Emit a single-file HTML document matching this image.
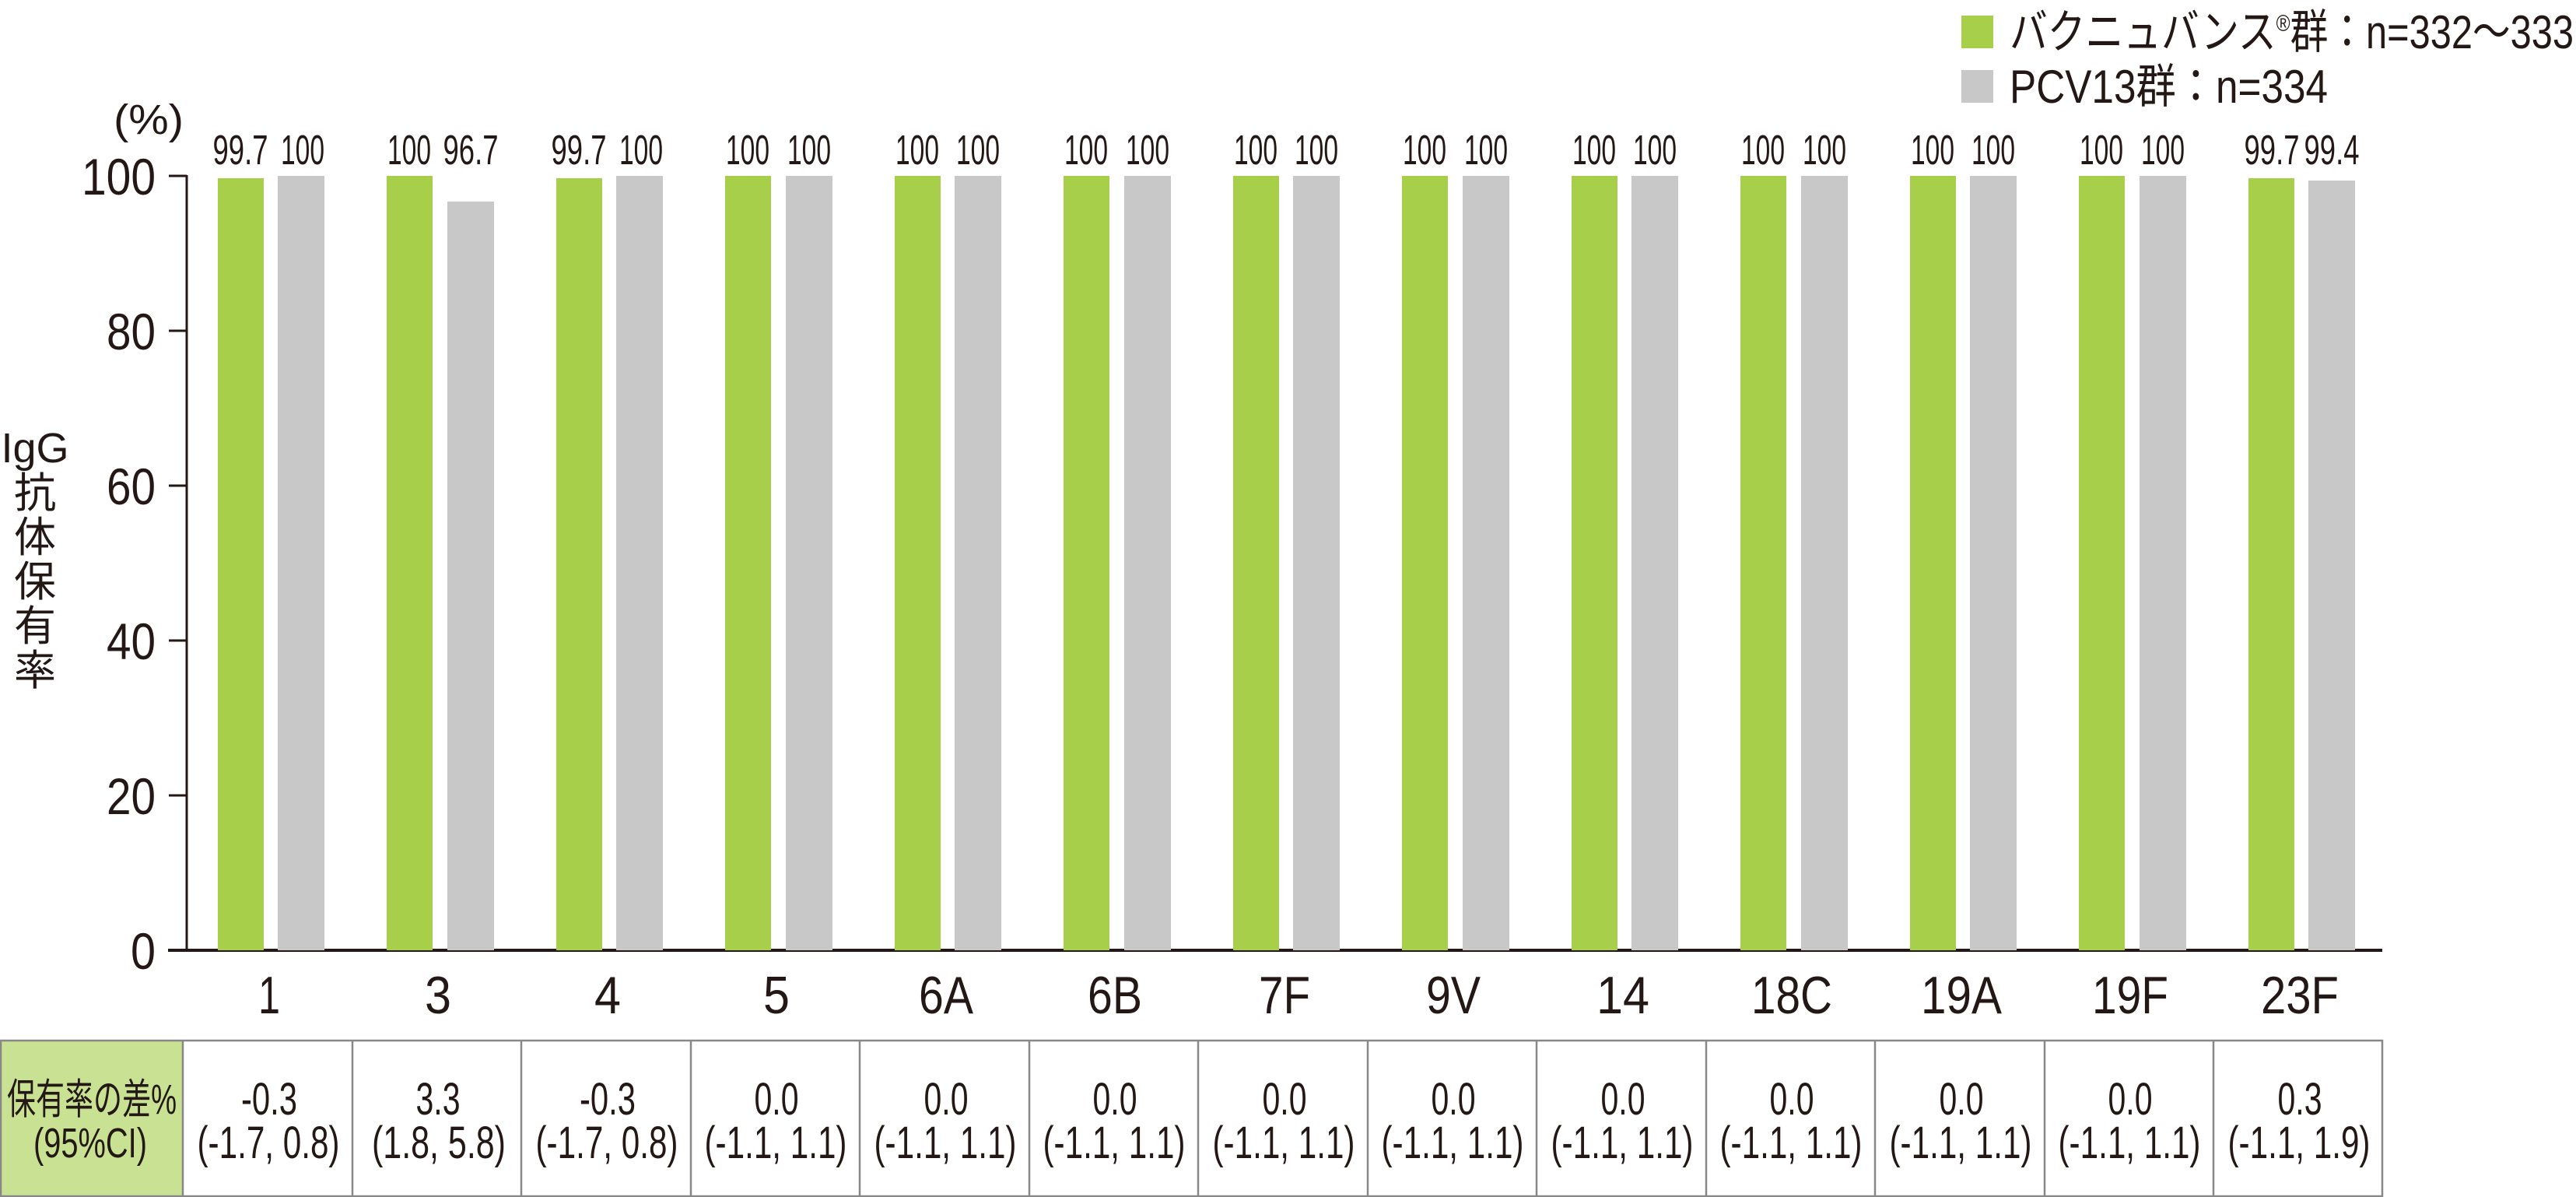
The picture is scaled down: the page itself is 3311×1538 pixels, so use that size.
<!DOCTYPE html>
<html><head><meta charset="utf-8"><style>
html,body{margin:0;padding:0;background:#fff;}
svg{display:block;}
text{font-family:"Liberation Sans","Noto Sans CJK JP",sans-serif;fill:#231815;}
</style></head><body>
<svg width="3311" height="1538" viewBox="0 0 3311 1538" xmlns="http://www.w3.org/2000/svg">
<!-- legend -->
<rect x="2521" y="20" width="41" height="42" fill="#a8cf4a"/>
<rect x="2521" y="90" width="41" height="42" fill="#c8c8c8"/>
<text x="2583" y="62" font-size="60" textLength="725" lengthAdjust="spacingAndGlyphs">バクニュバンス<tspan font-size="30" dy="-22">®</tspan><tspan dy="22">群：n=332〜333</tspan></text>
<text x="2583" y="132" font-size="60" textLength="409" lengthAdjust="spacingAndGlyphs">PCV13群：n=334</text>
<!-- (%) -->
<text x="146" y="172" font-size="54" textLength="90" lengthAdjust="spacingAndGlyphs">(%)</text>
<!-- y title -->
<g font-size="54" text-anchor="middle">
<text x="45" y="594">IgG</text>
<text x="45" y="652">抗</text>
<text x="45" y="709">体</text>
<text x="45" y="766">保</text>
<text x="45" y="823">有</text>
<text x="45" y="880">率</text>
</g>
<!-- axes -->
<line x1="240" y1="225" x2="240" y2="1222" stroke="#231815" stroke-width="3"/>
<line x1="216" y1="1221" x2="3062" y2="1221" stroke="#231815" stroke-width="4"/>
<g stroke="#231815" stroke-width="3">
<line x1="217" y1="226" x2="240" y2="226"/>
<line x1="217" y1="425" x2="240" y2="425"/>
<line x1="217" y1="624" x2="240" y2="624"/>
<line x1="217" y1="823" x2="240" y2="823"/>
<line x1="217" y1="1022" x2="240" y2="1022"/>
</g>
<g font-size="66" text-anchor="end">
<text x="200" y="250" textLength="95" lengthAdjust="spacingAndGlyphs">100</text>
<text x="200" y="449" textLength="63" lengthAdjust="spacingAndGlyphs">80</text>
<text x="200" y="648" textLength="63" lengthAdjust="spacingAndGlyphs">60</text>
<text x="200" y="847" textLength="63" lengthAdjust="spacingAndGlyphs">40</text>
<text x="200" y="1046" textLength="63" lengthAdjust="spacingAndGlyphs">20</text>
<text x="200" y="1245" textLength="32" lengthAdjust="spacingAndGlyphs">0</text>
</g>
<!-- bars -->
<g>
<rect x="280" y="229" width="59" height="992" fill="#a8cf4a"/><rect x="357" y="226" width="60" height="995" fill="#c8c8c8"/>
<rect x="497" y="226" width="59" height="995" fill="#a8cf4a"/><rect x="575" y="259" width="60" height="962" fill="#c8c8c8"/>
<rect x="715" y="229" width="59" height="992" fill="#a8cf4a"/><rect x="792" y="226" width="60" height="995" fill="#c8c8c8"/>
<rect x="932" y="226" width="59" height="995" fill="#a8cf4a"/><rect x="1010" y="226" width="60" height="995" fill="#c8c8c8"/>
<rect x="1150" y="226" width="59" height="995" fill="#a8cf4a"/><rect x="1227" y="226" width="60" height="995" fill="#c8c8c8"/>
<rect x="1367" y="226" width="59" height="995" fill="#a8cf4a"/><rect x="1445" y="226" width="60" height="995" fill="#c8c8c8"/>
<rect x="1585" y="226" width="59" height="995" fill="#a8cf4a"/><rect x="1662" y="226" width="60" height="995" fill="#c8c8c8"/>
<rect x="1802" y="226" width="59" height="995" fill="#a8cf4a"/><rect x="1880" y="226" width="60" height="995" fill="#c8c8c8"/>
<rect x="2020" y="226" width="59" height="995" fill="#a8cf4a"/><rect x="2097" y="226" width="60" height="995" fill="#c8c8c8"/>
<rect x="2237" y="226" width="59" height="995" fill="#a8cf4a"/><rect x="2315" y="226" width="60" height="995" fill="#c8c8c8"/>
<rect x="2455" y="226" width="59" height="995" fill="#a8cf4a"/><rect x="2532" y="226" width="60" height="995" fill="#c8c8c8"/>
<rect x="2672" y="226" width="59" height="995" fill="#a8cf4a"/><rect x="2750" y="226" width="60" height="995" fill="#c8c8c8"/>
<rect x="2890" y="229" width="59" height="992" fill="#a8cf4a"/><rect x="2967" y="232" width="60" height="989" fill="#c8c8c8"/>
</g>
<!-- value labels -->
<g font-size="54" text-anchor="middle">
<text x="309" y="211" textLength="71" lengthAdjust="spacingAndGlyphs">99.7</text><text x="389" y="211" textLength="56" lengthAdjust="spacingAndGlyphs">100</text>
<text x="526" y="211" textLength="56" lengthAdjust="spacingAndGlyphs">100</text><text x="605" y="211" textLength="71" lengthAdjust="spacingAndGlyphs">96.7</text>
<text x="744" y="211" textLength="71" lengthAdjust="spacingAndGlyphs">99.7</text><text x="824" y="211" textLength="56" lengthAdjust="spacingAndGlyphs">100</text>
<text x="961" y="211" textLength="56" lengthAdjust="spacingAndGlyphs">100</text><text x="1040" y="211" textLength="56" lengthAdjust="spacingAndGlyphs">100</text>
<text x="1179" y="211" textLength="56" lengthAdjust="spacingAndGlyphs">100</text><text x="1257" y="211" textLength="56" lengthAdjust="spacingAndGlyphs">100</text>
<text x="1396" y="211" textLength="56" lengthAdjust="spacingAndGlyphs">100</text><text x="1475" y="211" textLength="56" lengthAdjust="spacingAndGlyphs">100</text>
<text x="1614" y="211" textLength="56" lengthAdjust="spacingAndGlyphs">100</text><text x="1692" y="211" textLength="56" lengthAdjust="spacingAndGlyphs">100</text>
<text x="1831" y="211" textLength="56" lengthAdjust="spacingAndGlyphs">100</text><text x="1910" y="211" textLength="56" lengthAdjust="spacingAndGlyphs">100</text>
<text x="2049" y="211" textLength="56" lengthAdjust="spacingAndGlyphs">100</text><text x="2127" y="211" textLength="56" lengthAdjust="spacingAndGlyphs">100</text>
<text x="2266" y="211" textLength="56" lengthAdjust="spacingAndGlyphs">100</text><text x="2345" y="211" textLength="56" lengthAdjust="spacingAndGlyphs">100</text>
<text x="2484" y="211" textLength="56" lengthAdjust="spacingAndGlyphs">100</text><text x="2562" y="211" textLength="56" lengthAdjust="spacingAndGlyphs">100</text>
<text x="2701" y="211" textLength="56" lengthAdjust="spacingAndGlyphs">100</text><text x="2780" y="211" textLength="56" lengthAdjust="spacingAndGlyphs">100</text>
<text x="2920" y="211" textLength="71" lengthAdjust="spacingAndGlyphs">99.7</text><text x="2997" y="211" textLength="71" lengthAdjust="spacingAndGlyphs">99.4</text>
</g>
<!-- x labels -->
<g font-size="68" text-anchor="middle">
<text x="346" y="1302" textLength="28" lengthAdjust="spacingAndGlyphs">1</text>
<text x="563" y="1302" textLength="34" lengthAdjust="spacingAndGlyphs">3</text>
<text x="781" y="1302" textLength="34" lengthAdjust="spacingAndGlyphs">4</text>
<text x="998" y="1302" textLength="34" lengthAdjust="spacingAndGlyphs">5</text>
<text x="1216" y="1302" textLength="70" lengthAdjust="spacingAndGlyphs">6A</text>
<text x="1433" y="1302" textLength="70" lengthAdjust="spacingAndGlyphs">6B</text>
<text x="1651" y="1302" textLength="66" lengthAdjust="spacingAndGlyphs">7F</text>
<text x="1868" y="1302" textLength="70" lengthAdjust="spacingAndGlyphs">9V</text>
<text x="2086" y="1302" textLength="68" lengthAdjust="spacingAndGlyphs">14</text>
<text x="2303" y="1302" textLength="104" lengthAdjust="spacingAndGlyphs">18C</text>
<text x="2521" y="1302" textLength="104" lengthAdjust="spacingAndGlyphs">19A</text>
<text x="2738" y="1302" textLength="98" lengthAdjust="spacingAndGlyphs">19F</text>
<text x="2956" y="1302" textLength="100" lengthAdjust="spacingAndGlyphs">23F</text>
</g>
<!-- table -->
<rect x="1" y="1337" width="234" height="200" fill="#c8e192"/>
<g stroke="#888" stroke-width="2.5" fill="none">
<rect x="1" y="1337" width="3061" height="200"/>
<line x1="235" y1="1337" x2="235" y2="1537"/>
<line x1="453" y1="1337" x2="453" y2="1537"/>
<line x1="670" y1="1337" x2="670" y2="1537"/>
<line x1="888" y1="1337" x2="888" y2="1537"/>
<line x1="1105" y1="1337" x2="1105" y2="1537"/>
<line x1="1323" y1="1337" x2="1323" y2="1537"/>
<line x1="1540" y1="1337" x2="1540" y2="1537"/>
<line x1="1758" y1="1337" x2="1758" y2="1537"/>
<line x1="1975" y1="1337" x2="1975" y2="1537"/>
<line x1="2193" y1="1337" x2="2193" y2="1537"/>
<line x1="2410" y1="1337" x2="2410" y2="1537"/>
<line x1="2628" y1="1337" x2="2628" y2="1537"/>
<line x1="2845" y1="1337" x2="2845" y2="1537"/>
</g>
<g font-size="54" text-anchor="middle">
<text x="118" y="1431" textLength="218" lengthAdjust="spacingAndGlyphs">保有率の差%</text>
<text x="116" y="1487" textLength="146" lengthAdjust="spacingAndGlyphs">(95%CI)</text>
</g>
<g font-size="58" text-anchor="middle">
<text x="346" y="1432" textLength="72" lengthAdjust="spacingAndGlyphs">-0.3</text><text x="345" y="1488" textLength="183" lengthAdjust="spacingAndGlyphs">(-1.7, 0.8)</text>
<text x="563" y="1432" textLength="57" lengthAdjust="spacingAndGlyphs">3.3</text><text x="564" y="1488" textLength="172" lengthAdjust="spacingAndGlyphs">(1.8, 5.8)</text>
<text x="781" y="1432" textLength="72" lengthAdjust="spacingAndGlyphs">-0.3</text><text x="780" y="1488" textLength="183" lengthAdjust="spacingAndGlyphs">(-1.7, 0.8)</text>
<text x="998" y="1432" textLength="57" lengthAdjust="spacingAndGlyphs">0.0</text><text x="997" y="1488" textLength="183" lengthAdjust="spacingAndGlyphs">(-1.1, 1.1)</text>
<text x="1216" y="1432" textLength="57" lengthAdjust="spacingAndGlyphs">0.0</text><text x="1215" y="1488" textLength="183" lengthAdjust="spacingAndGlyphs">(-1.1, 1.1)</text>
<text x="1433" y="1432" textLength="57" lengthAdjust="spacingAndGlyphs">0.0</text><text x="1432" y="1488" textLength="183" lengthAdjust="spacingAndGlyphs">(-1.1, 1.1)</text>
<text x="1651" y="1432" textLength="57" lengthAdjust="spacingAndGlyphs">0.0</text><text x="1650" y="1488" textLength="183" lengthAdjust="spacingAndGlyphs">(-1.1, 1.1)</text>
<text x="1868" y="1432" textLength="57" lengthAdjust="spacingAndGlyphs">0.0</text><text x="1867" y="1488" textLength="183" lengthAdjust="spacingAndGlyphs">(-1.1, 1.1)</text>
<text x="2086" y="1432" textLength="57" lengthAdjust="spacingAndGlyphs">0.0</text><text x="2085" y="1488" textLength="183" lengthAdjust="spacingAndGlyphs">(-1.1, 1.1)</text>
<text x="2303" y="1432" textLength="57" lengthAdjust="spacingAndGlyphs">0.0</text><text x="2302" y="1488" textLength="183" lengthAdjust="spacingAndGlyphs">(-1.1, 1.1)</text>
<text x="2521" y="1432" textLength="57" lengthAdjust="spacingAndGlyphs">0.0</text><text x="2520" y="1488" textLength="183" lengthAdjust="spacingAndGlyphs">(-1.1, 1.1)</text>
<text x="2738" y="1432" textLength="57" lengthAdjust="spacingAndGlyphs">0.0</text><text x="2737" y="1488" textLength="183" lengthAdjust="spacingAndGlyphs">(-1.1, 1.1)</text>
<text x="2956" y="1432" textLength="57" lengthAdjust="spacingAndGlyphs">0.3</text><text x="2955" y="1488" textLength="183" lengthAdjust="spacingAndGlyphs">(-1.1, 1.9)</text>
</g>
</svg>
</body></html>
